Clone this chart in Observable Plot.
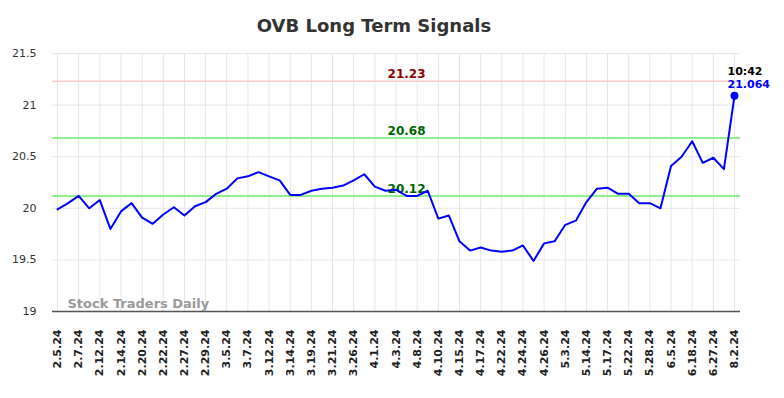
<!DOCTYPE html>
<html>
<head>
<meta charset="utf-8">
<script src="https://cdn.jsdelivr.net/npm/d3@7"></script>
<script src="https://cdn.jsdelivr.net/npm/@observablehq/plot@0.6"></script>
<style>
  body { margin: 0; background: #fff; }
  #wrap { position: relative; width: 784px; height: 398px; }
  #title { position: absolute; left: 0; top: 17px; width: 748px; text-align: center;
           font: bold 18px "DejaVu Sans"; line-height: 18px; color: #333; }
</style>
</head>
<body>
<div id="wrap"><div id="title">OVB Long Term Signals</div></div>
<script>
const tickLabels = ["2.5.24","2.7.24","2.12.24","2.14.24","2.20.24","2.22.24","2.27.24","2.29.24","3.5.24","3.7.24","3.12.24","3.14.24","3.19.24","3.21.24","3.26.24","4.1.24","4.3.24","4.8.24","4.10.24","4.15.24","4.17.24","4.22.24","4.24.24","4.26.24","5.3.24","5.14.24","5.17.24","5.22.24","5.28.24","6.5.24","6.18.24","6.27.24","8.2.24"];
const prices = [19.99,20.05,20.12,20.00,20.08,19.80,19.97,20.05,19.91,19.85,19.94,20.01,19.93,20.02,20.06,20.14,20.19,20.29,20.31,20.35,20.31,20.27,20.13,20.13,20.17,20.19,20.20,20.22,20.27,20.33,20.21,20.17,20.18,20.12,20.12,20.17,19.90,19.93,19.68,19.59,19.62,19.59,19.58,19.59,19.64,19.49,19.66,19.68,19.84,19.88,20.06,20.19,20.20,20.14,20.14,20.05,20.05,20.00,20.41,20.50,20.65,20.44,20.49,20.38,21.09];
const yTicks = [19, 19.5, 20, 20.5, 21, 21.5];
const levels = [21.23, 20.68, 20.12];
const levelLabels = ["21.23", "20.68", "20.12"];
const levelLineColors = ["#ffcccc", "#90ee90", "#90ee90"];
const levelTextColors = ["#8b0000", "#006400", "#006400"];
const lastTime = "10:42";
const lastLabel = "21.064";
const watermark = "Stock Traders Daily";

const pts = prices.map((v, i) => ({i, v}));
const tickIdx = tickLabels.map((_, k) => k * 2);
const lvl = levels.map((v, k) => ({v, label: levelLabels[k], line: levelLineColors[k], text: levelTextColors[k]}));
const last = pts[pts.length - 1];
const labelX = 33;

const chart = Plot.plot({
  width: 784, height: 398,
  marginLeft: 52, marginRight: 44, marginTop: 53, marginBottom: 87,
  insetLeft: 5, insetRight: 6,
  style: {fontFamily: "DejaVu Sans", fontSize: "11px", background: "transparent"},
  x: {domain: [0, prices.length - 1], label: null},
  y: {domain: [19, 21.5], label: null},
  marks: [
    Plot.gridX(tickIdx, {stroke: "#e6e6e6", strokeOpacity: 1}),
    Plot.gridY(yTicks, {stroke: "#e6e6e6", strokeOpacity: 1}),
    Plot.ruleY(lvl.slice(0,1), {y: "v", stroke: "line", strokeWidth: 1.5}),
    Plot.ruleY(lvl.slice(1), {y: "v", stroke: "line", strokeWidth: 2}),
    Plot.axisY(yTicks, {tickSize: 0, tickPadding: 16, fill: "#333", fontSize: 11, label: null,
      tickFormat: d => String(d)}),
    Plot.axisX(tickIdx, {tickSize: 0, tickPadding: 18, tickRotate: -90, fontWeight: "bold", fontSize: 11, fill: "#222",
      tickFormat: d => tickLabels[d / 2], label: null}),
    Plot.ruleY([19], {stroke: "#555", strokeWidth: 1.3}),
    Plot.text(lvl, {x: () => labelX, y: "v", text: "label", fill: "text", fontWeight: "bold", fontSize: 12,
      lineAnchor: "bottom", dy: -3}),
    Plot.text([watermark], {frameAnchor: "bottom-left", text: d => d, dx: 15, dy: -4, lineAnchor: "bottom",
      textAnchor: "start", fill: "#9a9a9a", fontWeight: "bold", fontSize: 13}),
    Plot.line(pts, {x: "i", y: "v", stroke: "#0000ff", strokeWidth: 2}),
    Plot.dot([last], {x: "i", y: "v", r: 4, fill: "#0000ff"}),
    Plot.text([last], {x: "i", y: "v", text: () => lastLabel, fill: "#0000ff", fontWeight: "bold", fontSize: 11,
      textAnchor: "start", lineAnchor: "bottom", dx: -7, dy: -8}),
    Plot.text([last], {x: "i", y: "v", text: () => lastTime, fill: "#000", fontWeight: "bold", fontSize: 11,
      textAnchor: "start", lineAnchor: "bottom", dx: -7, dy: -21})
  ]
});
chart.style.position = "absolute";
chart.style.left = "0";
chart.style.top = "0";
document.getElementById("wrap").appendChild(chart);
</script>
</body>
</html>
